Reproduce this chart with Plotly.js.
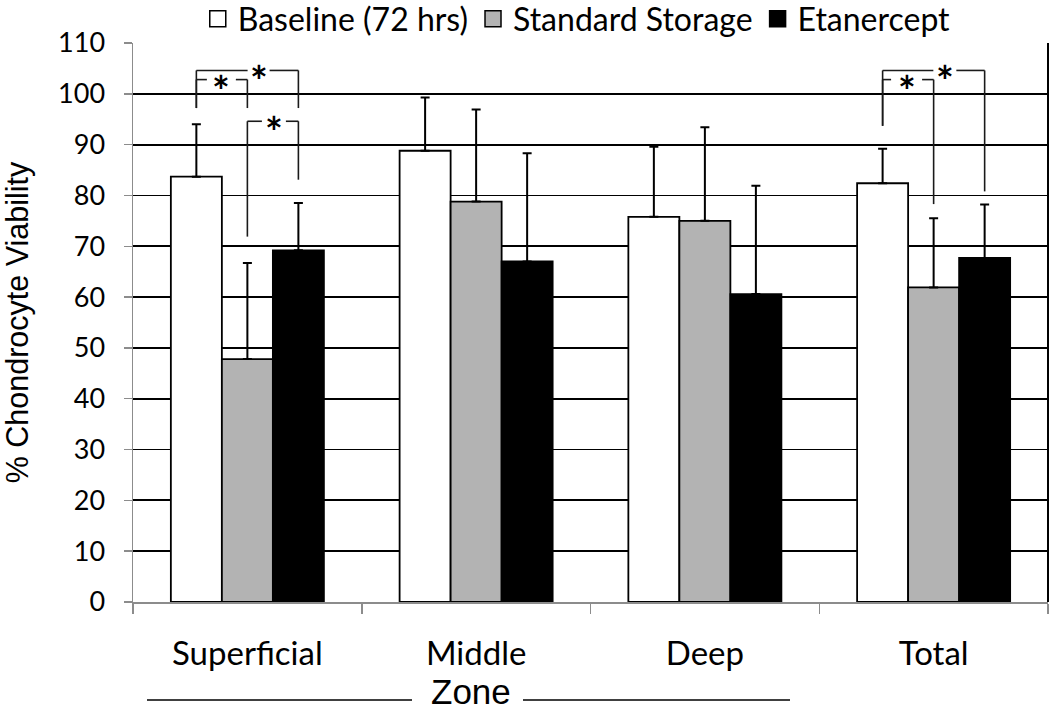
<!DOCTYPE html>
<html>
<head>
<meta charset="utf-8">
<script src="https://cdn.plot.ly/plotly-3.0.1.min.js"></script>
<style>html,body{margin:0;padding:0;background:#fff;}#chart{width:1050px;height:711px;}</style>
</head>
<body>
<div id="chart"></div>
<script>
// ---- data ----
var categories = ['Superficial', 'Middle', 'Deep', 'Total'];
var seriesNames = ['Baseline (72 hrs)', 'Standard Storage', 'Etanercept'];
var baseline = [83.7, 88.8, 75.8, 82.4];
var baselineErr = [10.3, 10.5, 13.8, 6.8];
var standard = [47.8, 78.8, 75.0, 61.9];
var standardErr = [18.9, 18.1, 18.4, 13.6];
var etanercept = [69.2, 67.0, 60.6, 67.7];
var etanerceptErr = [9.3, 21.3, 21.3, 10.5];
// significance brackets: category index, series from/to, top value, bottom values, star position
var bracketCat = [0, 0, 0, 3, 3];
var bracketFrom = [0, 0, 1, 0, 0];
var bracketTo = [1, 2, 2, 1, 2];
var bracketTop = [102.8, 104.6, 94.6, 102.8, 104.6];
var bracketLeftEnd = [97.2, 97.2, 71.9, 93.7, 93.7];
var bracketRightEnd = [97.2, 97.2, 83.1, 78.3, 80.8];
var bracketStarFrac = [0.49, 0.61, 0.52, 0.47, 0.61];
var bracketGapPx = [29, 22, 24, 31, 23];

(function () {
// ---- styling ----
var colors = ['#ffffff', '#b3b3b3', '#000000'];
var values = [baseline, standard, etanercept];
var errs = [baselineErr, standardErr, etanerceptErr];
var bargap = 0.331;
var W = 1050, H = 711;
var margin = {l: 133, r: 2, t: 43, b: 109, autoexpand: false};
var plotW = W - margin.l - margin.r;
var pxPerCat = plotW / categories.length;
var barW = (1 - bargap) / seriesNames.length;
var calibri = 'Lato, Carlito, Calibri, sans-serif';
var arial = '"Liberation Sans", Arial, sans-serif';

var traces = [];
for (var s = 0; s < seriesNames.length; s++) {
  traces.push({
    type: 'bar', x: categories, y: values[s], name: seriesNames[s], showlegend: false,
    marker: {color: colors[s], line: {color: '#000', width: 1.8}},
    error_y: {type: 'data', symmetric: false, array: errs[s], arrayminus: errs[s].map(function(){return 0;}),
              color: '#000', thickness: 2, width: 4.5}
  });
}
for (var s2 = 0; s2 < seriesNames.length; s2++) {
  traces.push({
    type: 'scatter', mode: 'markers', x: [categories[0]], y: [null], name: seriesNames[s2],
    marker: {symbol: 'square', size: 16, color: colors[s2], line: {color: '#000', width: 1.5}},
    showlegend: true
  });
}

function sx(cat, ser) { return cat + (ser - (seriesNames.length - 1) / 2) * barW; }

var shapes = [];
var annotations = [];
var lineStyle = {color: '#1a1a1a', width: 1.6};
for (var b = 0; b < bracketCat.length; b++) {
  var x0 = sx(bracketCat[b], bracketFrom[b]);
  var x1 = sx(bracketCat[b], bracketTo[b]);
  var yTop = bracketTop[b];
  var xm = x0 + (x1 - x0) * bracketStarFrac[b];
  var half = bracketGapPx[b] / 2 / pxPerCat;
  shapes.push({type: 'line', xref: 'x', yref: 'y', x0: x0, x1: x0, y0: bracketLeftEnd[b], y1: yTop, line: lineStyle});
  shapes.push({type: 'line', xref: 'x', yref: 'y', x0: x1, x1: x1, y0: bracketRightEnd[b], y1: yTop, line: lineStyle});
  shapes.push({type: 'line', xref: 'x', yref: 'y', x0: x0, x1: xm - half, y0: yTop, y1: yTop, line: lineStyle});
  shapes.push({type: 'line', xref: 'x', yref: 'y', x0: xm + half, x1: x1, y0: yTop, y1: yTop, line: lineStyle});
  annotations.push({xref: 'x', yref: 'y', x: xm, y: yTop, text: '<b>*</b>', showarrow: false,
    xanchor: 'center', yanchor: 'middle', yshift: -11, font: {family: calibri, size: 42, color: '#000'}});
}
// right border of plot area
shapes.push({type: 'line', xref: 'paper', yref: 'paper', x0: 1, x1: 1, y0: 0, y1: 1, line: {color: '#000', width: 2}});
// "Zone" title rules
function px2x(p) { return (p - margin.l) / plotW; }
var plotH = H - margin.t - margin.b;
function py2y(p) { return (H - margin.b - p) / plotH; }
shapes.push({type: 'line', xref: 'paper', yref: 'paper', x0: px2x(147), x1: px2x(412), y0: py2y(700), y1: py2y(700), line: {color: '#000', width: 1.5}});
shapes.push({type: 'line', xref: 'paper', yref: 'paper', x0: px2x(523), x1: px2x(790), y0: py2y(700), y1: py2y(700), line: {color: '#000', width: 1.5}});
annotations.push({xref: 'paper', yref: 'paper', x: px2x(471), y: py2y(712), text: 'Zone', showarrow: false,
  xanchor: 'center', yanchor: 'bottom', borderpad: 0, font: {family: arial, size: 35, color: '#000'}});

var layout = {
  width: W, height: H, margin: margin,
  paper_bgcolor: '#fff', plot_bgcolor: '#fff',
  barmode: 'group', bargap: bargap, bargroupgap: 0,
  showlegend: true,
  legend: {orientation: 'h', x: 0.485, xanchor: 'center', y: 1.092, yanchor: 'top',
           font: {family: calibri, size: 32, color: '#000'}, itemsizing: 'trace', bgcolor: 'rgba(0,0,0,0)'},
  xaxis: {type: 'category', tickson: 'boundaries', ticks: 'outside', ticklen: 10, tickwidth: 1.5, tickcolor: '#8c8c8c',
          showline: true, linecolor: '#8c8c8c', linewidth: 1.5, showgrid: false, zeroline: false, automargin: false,
          tickfont: {family: calibri, size: 33, color: '#000'}, ticklabelstandoff: 22, range: [-0.5, 3.5]},
  yaxis: {range: [0, 110], dtick: 10, tick0: 0, ticks: 'outside', ticklen: 8, tickwidth: 1.5, automargin: false,
          tickcolor: '#8c8c8c', showline: true, linecolor: '#8c8c8c', linewidth: 1.5,
          showgrid: true, gridcolor: '#000', gridwidth: 1.8, zeroline: false,
          tickfont: {family: calibri, size: 27, color: '#000'}, ticklabelstandoff: 13,
          title: {text: '% Chondrocyte Viability', font: {family: arial, size: 30.5, color: '#000'}, standoff: 24}},
  shapes: shapes, annotations: annotations
};

Plotly.newPlot('chart', traces, layout, {displayModeBar: false, staticPlot: true});
})();
</script>
</body>
</html>
